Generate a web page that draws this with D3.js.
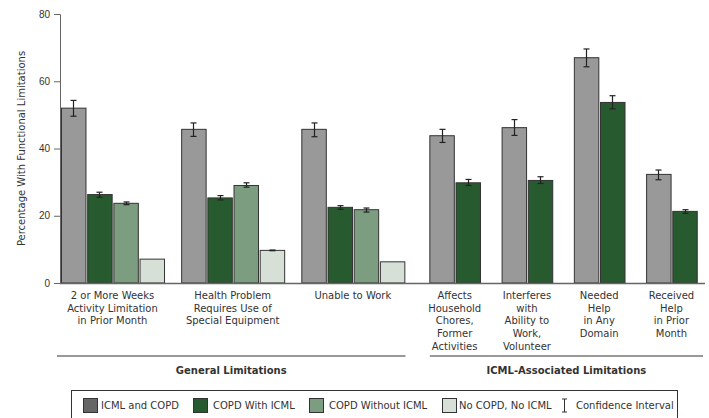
<!DOCTYPE html>
<html lang="en">
<head>
<meta charset="UTF-8">
<title>Functional Limitations by ICML and COPD Status</title>
<script src="https://d3js.org/d3.v7.min.js"></script>
<style>
  body { margin: 0; background: #fff; }
  svg { font-family: Verdana, "DejaVu Sans", sans-serif; }
  .tick text { font-size: 10px; fill: #333; }
  .cat-label { font-size: 10px; fill: #333; }
  .section-label { font-size: 10px; font-weight: bold; fill: #333; }
  .legend text { font-size: 10px; fill: #333; }
</style>
</head>
<body>
<svg width="709" height="418"></svg>
<script>
// categories (multi-line labels) and the section each belongs to
const categories = [
  ["2 or More Weeks", "Activity Limitation", "in Prior Month"],
  ["Health Problem", "Requires Use of", "Special Equipment"],
  ["Unable to Work"],
  ["Affects", "Household", "Chores,", "Former", "Activities"],
  ["Interferes", "with", "Ability to", "Work,", "Volunteer"],
  ["Needed", "Help", "in Any", "Domain"],
  ["Received", "Help", "in Prior", "Month"]
];
const sectionOf = [0, 0, 0, 1, 1, 1, 1];
const sections = ["General Limitations", "ICML-Associated Limitations"];

const seriesNames = ["ICML and COPD", "COPD With ICML", "COPD Without ICML", "No COPD, No ICML"];

// percentages, null = not shown
const icmlAndCopd     = [52.0, 45.7, 45.7, 43.8, 46.2, 67.0, 32.3];
const copdWithIcml    = [26.3, 25.3, 22.5, 29.8, 30.5, 53.7, 21.3];
const copdWithoutIcml = [23.7, 29.0, 21.8, null, null, null, null];
const noCopdNoIcml    = [7.1, 9.7, 6.3, null, null, null, null];

// 95% confidence intervals
const icmlAndCopdLo     = [49.6, 43.6, 43.5, 41.8, 43.9, 64.3, 30.7];
const icmlAndCopdHi     = [54.3, 47.6, 47.6, 45.7, 48.6, 69.6, 33.6];
const copdWithIcmlLo    = [25.5, 24.7, 21.9, 29.0, 29.6, 51.8, 20.7];
const copdWithIcmlHi    = [27.0, 26.0, 23.0, 30.8, 31.6, 55.7, 21.8];
const copdWithoutIcmlLo = [23.3, 28.5, 21.1, null, null, null, null];
const copdWithoutIcmlHi = [24.1, 29.8, 22.3, null, null, null, null];
const noCopdNoIcmlLo    = [null, 9.6, null, null, null, null, null];
const noCopdNoIcmlHi    = [null, 9.8, null, null, null, null, null];

const yTicks = [0, 20, 40, 60, 80];

const seriesValues = [icmlAndCopd, copdWithIcml, copdWithoutIcml, noCopdNoIcml];
const seriesLo = [icmlAndCopdLo, copdWithIcmlLo, copdWithoutIcmlLo, noCopdNoIcmlLo];
const seriesHi = [icmlAndCopdHi, copdWithIcmlHi, copdWithoutIcmlHi, noCopdNoIcmlHi];
const barFill = ["#999999", "#275a2e", "#7d9d80", "#d6e0d6"];
const swatchFill = ["#666666", "#275a2e", "#7d9d80", "#d6e0d6"];

const svg = d3.select("svg");

// slot layout: one unit per bar, gaps between groups
const gapWithin = [0.59, 0.76], gapBetween = 0.89;
const groupStart = [];
let pos = 0;
categories.forEach((c, i) => {
  groupStart.push(pos);
  const n = seriesValues.filter(s => s[i] != null).length;
  const next = i + 1 < categories.length ? sectionOf[i + 1] : null;
  pos += n + (next == null ? 0.25 : next === sectionOf[i] ? gapWithin[sectionOf[i]] : gapBetween);
});
const groupCount = categories.map((c, i) => seriesValues.filter(s => s[i] != null).length);

const x = d3.scaleLinear().domain([0, pos]).range([61, 705]);
const y = d3.scaleLinear().domain([0, 80]).range([283, 14]);
const barW = x(0.935) - x(0);

const bars = [];
categories.forEach((c, i) => {
  let k = 0;
  seriesValues.forEach((s, j) => {
    if (s[i] == null) return;
    bars.push({ g: i, s: j, slot: groupStart[i] + k, v: s[i], lo: seriesLo[j][i], hi: seriesHi[j][i] });
    k++;
  });
});

// y axis
const yAxis = svg.append("g")
  .attr("transform", "translate(60,0)")
  .call(d3.axisLeft(y).tickValues(yTicks).tickSize(6).tickPadding(4));
yAxis.select(".domain").attr("stroke", "#666");
yAxis.selectAll(".tick line").attr("stroke", "#666");

svg.append("text")
  .attr("transform", `translate(21,${(y(0) + y(80)) / 2}) rotate(-90)`)
  .attr("text-anchor", "middle")
  .attr("dy", "0.35em")
  .style("font-size", "10px")
  .attr("fill", "#333")
  .text("Percentage With Functional Limitations");

// bars
svg.append("g").selectAll("rect")
  .data(bars)
  .join("rect")
  .attr("x", d => x(d.slot) + 0.5)
  .attr("y", d => y(d.v))
  .attr("width", barW)
  .attr("height", d => y(0) - y(d.v))
  .attr("fill", d => barFill[d.s])
  .attr("stroke", "#333")
  .attr("stroke-width", 1);

// x axis baseline
svg.append("line")
  .attr("x1", 60).attr("x2", x(pos))
  .attr("y1", y(0) + 0.5).attr("y2", y(0) + 0.5)
  .attr("stroke", "#666").attr("stroke-width", 1.5);

// confidence intervals
const ci = svg.append("g").attr("stroke", "#222").attr("stroke-width", 1.2);
bars.filter(d => d.lo != null).forEach(d => {
  const cx = Math.round(x(d.slot) + barW / 2) + 0.5;
  ci.append("line").attr("x1", cx).attr("x2", cx).attr("y1", y(d.hi)).attr("y2", y(d.lo));
  ci.append("line").attr("x1", cx - 3).attr("x2", cx + 3).attr("y1", y(d.hi)).attr("y2", y(d.hi));
  ci.append("line").attr("x1", cx - 3).attr("x2", cx + 3).attr("y1", y(d.lo)).attr("y2", y(d.lo));
});

// category labels
categories.forEach((lines, i) => {
  const n = groupCount[i];
  const cx = x(groupStart[i]) + (x(n - 0.065) - x(0)) / 2;
  const t = svg.append("text")
    .attr("class", "cat-label")
    .attr("text-anchor", "middle")
    .attr("x", cx).attr("y", 299);
  lines.forEach((l, k) => t.append("tspan").attr("x", cx).attr("dy", k ? 12.7 : 0).text(l));
});

// section lines and titles
sections.forEach((name, si) => {
  const idx = sectionOf.map((s, i) => s === si ? i : -1).filter(i => i >= 0);
  const first = idx[0], last = idx[idx.length - 1];
  const x1 = si === 0 ? 57 : x(groupStart[first]) + 0.5;
  const x2 = si === 0 ? x(groupStart[last] + groupCount[last]) - 0.5 : x(pos) - 2;
  svg.append("line")
    .attr("x1", x1).attr("x2", x2)
    .attr("y1", 356).attr("y2", 356)
    .attr("stroke", "#333").attr("stroke-width", 1);
  svg.append("text")
    .attr("class", "section-label")
    .attr("text-anchor", "middle")
    .attr("x", (x1 + x2) / 2).attr("y", 374)
    .text(name);
});

// legend
const legend = svg.append("g").attr("class", "legend");
legend.append("rect")
  .attr("x", 71.5).attr("y", 390.5)
  .attr("width", 606).attr("height", 40)
  .attr("fill", "none").attr("stroke", "#333");
const legendX = [83, 193, 309, 442];
const legendTextX = [101, 213, 329, 459];
seriesNames.forEach((name, j) => {
  legend.append("rect")
    .attr("x", legendX[j] + 0.5).attr("y", 398.5)
    .attr("width", 14).attr("height", 14)
    .attr("fill", swatchFill[j]).attr("stroke", "#333");
  legend.append("text")
    .attr("x", legendTextX[j]).attr("y", 409)
    .text(name);
});
const ciX = 564.5;
legend.append("g").attr("stroke", "#333").attr("stroke-width", 1)
  .call(g => {
    g.append("line").attr("x1", ciX).attr("x2", ciX).attr("y1", 399).attr("y2", 412);
    g.append("line").attr("x1", ciX - 2.5).attr("x2", ciX + 2.5).attr("y1", 399).attr("y2", 399);
    g.append("line").attr("x1", ciX - 2.5).attr("x2", ciX + 2.5).attr("y1", 412).attr("y2", 412);
  });
legend.append("text").attr("x", 576).attr("y", 409).text("Confidence Interval");
</script>
</body>
</html>
